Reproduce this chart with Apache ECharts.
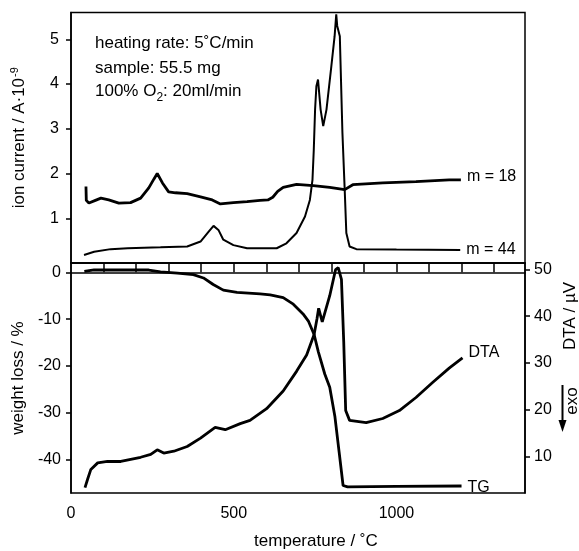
<!DOCTYPE html>
<html>
<head>
<meta charset="utf-8">
<script src="https://cdn.jsdelivr.net/npm/echarts@6/dist/echarts.min.js"></script>
<style>
  html, body { margin: 0; padding: 0; background: #fff; }
  #chart { width: 579px; height: 551px; }
</style>
</head>
<body>
<div id="chart"></div>
<script>
// ion current, m = 18
const m18T = [46, 47, 55, 75, 92, 116, 147, 183, 214, 239, 255, 265, 281, 300, 321, 357, 398, 434, 459, 499, 541, 581, 605, 620, 635, 652, 693, 744, 795, 841, 866, 958, 1060, 1162, 1198];
const m18V = [1.71, 1.40, 1.34, 1.40, 1.45, 1.41, 1.34, 1.35, 1.45, 1.68, 1.88, 2.0, 1.79, 1.59, 1.57, 1.55, 1.48, 1.41, 1.32, 1.35, 1.37, 1.40, 1.41, 1.47, 1.60, 1.69, 1.76, 1.73, 1.69, 1.64, 1.75, 1.79, 1.82, 1.86, 1.86];

// ion current, m = 44
const m44T = [40, 71, 122, 174, 275, 357, 398, 423, 438, 453, 468, 499, 541, 632, 662, 693, 719, 734, 742, 746, 750, 754, 759, 767, 775, 785, 800, 810, 815, 818, 826, 834, 841, 846, 856, 877, 1000, 1196];
const m44V = [0.18, 0.25, 0.31, 0.33, 0.35, 0.37, 0.48, 0.70, 0.83, 0.74, 0.52, 0.40, 0.33, 0.33, 0.44, 0.67, 1.04, 1.41, 1.86, 2.53, 3.43, 3.95, 4.10, 3.43, 3.06, 3.43, 4.40, 5.07, 5.56, 5.30, 5.07, 2.91, 1.64, 0.67, 0.37, 0.31, 0.30, 0.29];

// weight loss (TG), %
const tgT = [41, 71, 174, 239, 275, 327, 376, 407, 437, 468, 510, 581, 612, 652, 683, 713, 730, 747, 760, 780, 795, 811, 824, 836, 850, 1000, 1200];
const tgV = [0.2, 0.55, 0.5, 0.5, 0.1, -0.15, -0.5, -1.2, -2.6, -3.8, -4.3, -4.6, -4.8, -5.4, -6.8, -8.9, -10.5, -13.3, -17, -21.8, -24.6, -30.9, -38.5, -45.6, -45.9, -45.8, -45.7];

// DTA, µV
const dtaT = [43, 51, 61, 82, 112, 153, 214, 245, 265, 285, 316, 357, 398, 443, 474, 520, 550, 601, 652, 693, 724, 747, 756, 761, 772, 795, 813, 821, 831, 838, 844, 856, 907, 958, 1009, 1060, 1111, 1162, 1203];
const dtaV = [3.3, 5.1, 7.2, 8.6, 8.9, 8.9, 9.8, 10.4, 11.4, 10.7, 11.1, 12.1, 13.9, 16.2, 15.7, 17.0, 17.7, 20.2, 24.0, 28.2, 31.7, 36.1, 39.5, 41.7, 38.8, 44.4, 50.0, 50.4, 47.9, 34.6, 19.8, 17.7, 17.2, 18.1, 19.8, 22.6, 25.8, 28.9, 31.1];

// tick labels
const tempTicks = [100, 200, 300, 400, 500, 600, 700, 800, 900, 1000, 1100, 1200, 1300];
const tempLabels = [0, 500, 1000];
const ionTicks = [1, 2, 3, 4, 5];
const weightTicks = [0, -10, -20, -30, -40];
const dtaTicks = [10, 20, 30, 40, 50];

const zip = (xs, ys) => xs.map((x, i) => [x, ys[i]]);

const font = 'Liberation Sans, Arial, sans-serif';
const black = '#000';

const chart = echarts.init(document.getElementById('chart'));

const lineSeries = (name, xi, yi, xs, ys, width, label, offset) => ({
  name,
  type: 'line',
  xAxisIndex: xi,
  yAxisIndex: yi,
  data: zip(xs, ys),
  showSymbol: false,
  lineStyle: { color: black, width },
  endLabel: {
    show: true,
    formatter: label,
    color: black,
    fontFamily: font,
    fontSize: 16,
    distance: 6,
    offset
  }
});

const axisText = { color: black, fontFamily: font, fontSize: 16 };
const nameText = { color: black, fontFamily: font, fontSize: 17 };
const plain = v => String(v);

chart.setOption({
  animation: false,
  backgroundColor: '#fff',
  textStyle: { fontFamily: font },
  grid: [
    { left: 71, right: 54, top: 12.5, height: 250.5, show: true, borderColor: black, borderWidth: 1.5 },
    { left: 71, right: 54, top: 263, height: 234.5, show: true, borderColor: black, borderWidth: 1.5 }
  ],
  xAxis: [
    {
      gridIndex: 0, type: 'value', min: 0, max: 1395,
      axisLine: { lineStyle: { color: black, width: 1.5 } },
      axisTick: { inside: false, length: 5, customValues: tempTicks, lineStyle: { color: black, width: 1.5 } },
      axisLabel: { show: false },
      splitLine: { show: false }
    },
    {
      gridIndex: 1, type: 'value', min: 0, max: 1395,
      axisLine: { lineStyle: { color: black, width: 1.5 } },
      axisTick: { inside: true, length: 5, customValues: tempTicks, lineStyle: { color: black, width: 1.5 } },
      axisLabel: Object.assign({ customValues: tempLabels, margin: 13, formatter: plain }, axisText),
      splitLine: { show: false },
      name: 'temperature / ˚C',
      nameLocation: 'middle',
      nameGap: 40,
      nameTextStyle: Object.assign({ padding: [0, 0, 0, 36] }, nameText)
    }
  ],
  yAxis: [
    {
      gridIndex: 0, type: 'value', min: 0, max: 5.6,
      axisLine: { lineStyle: { color: black, width: 1.5 } },
      axisTick: { inside: false, length: 5, customValues: ionTicks, lineStyle: { color: black, width: 1.5 } },
      axisLabel: Object.assign({ customValues: ionTicks, margin: 12 }, axisText),
      splitLine: { show: false },
      name: '{n|ion current / A·10}{sup|-9}',
      nameLocation: 'middle',
      nameRotate: 90,
      nameGap: 43,
      nameTextStyle: Object.assign({
        rich: {
          n: { fontSize: 17, fontFamily: font, color: black, verticalAlign: 'bottom' },
          sup: { fontSize: 11, fontFamily: font, color: black, verticalAlign: 'bottom', padding: [0, 0, 8, 1] }
        }
      }, nameText)
    },
    {
      gridIndex: 1, type: 'value', min: -47.2, max: 2,
      axisLine: { lineStyle: { color: black, width: 1.5 } },
      axisTick: { inside: false, length: 5, customValues: weightTicks, lineStyle: { color: black, width: 1.5 } },
      axisLabel: Object.assign({ customValues: weightTicks, margin: 10 }, axisText),
      splitLine: { show: false },
      name: 'weight loss / %',
      nameLocation: 'middle',
      nameRotate: 90,
      nameGap: 43,
      nameTextStyle: nameText
    },
    {
      gridIndex: 1, type: 'value', position: 'right', min: 2.15, max: 51.4,
      axisLine: { lineStyle: { color: black, width: 1.5 } },
      axisTick: { inside: false, length: 5, customValues: dtaTicks, lineStyle: { color: black, width: 1.5 } },
      axisLabel: Object.assign({ customValues: dtaTicks, margin: 9 }, axisText),
      splitLine: { show: false }
    }
  ],
  graphic: [
    { type: 'text', left: 95, top: 35, style: { text: 'heating rate: 5˚C/min', fill: black, font: '17px ' + font } },
    { type: 'text', left: 95, top: 60, style: { text: 'sample: 55.5 mg', fill: black, font: '17px ' + font } },
    {
      type: 'text', left: 95, top: 83,
      style: {
        text: '{n|100% O}{sub|2}{n|: 20ml/min}',
        rich: {
          n: { fontSize: 17, fontFamily: font, fill: black, verticalAlign: 'bottom', padding: [0, 0, 4, 0] },
          sub: { fontSize: 12, fontFamily: font, fill: black, verticalAlign: 'bottom' }
        }
      }
    },
    {
      type: 'text', x: 570, y: 316, rotation: Math.PI / 2,
      style: { text: 'DTA / µV', fill: black, font: '17px ' + font, align: 'center', verticalAlign: 'middle' }
    },
    {
      type: 'text', x: 572, y: 401, rotation: Math.PI / 2,
      style: { text: 'exo', fill: black, font: '17px ' + font, align: 'center', verticalAlign: 'middle' }
    },
    { type: 'line', shape: { x1: 562.5, y1: 385, x2: 562.5, y2: 424 }, style: { stroke: black, lineWidth: 2 } },
    { type: 'polygon', shape: { points: [[558.5, 420], [566.5, 420], [562.5, 432]] }, style: { fill: black } }
  ],
  series: [
    lineSeries('m = 18', 0, 0, m18T, m18V, 2.8, 'm = 18', [0, -3]),
    lineSeries('m = 44', 0, 0, m44T, m44V, 2, 'm = 44', [0, 0]),
    lineSeries('TG', 1, 1, tgT, tgV, 2.8, 'TG', [0, 2]),
    lineSeries('DTA', 1, 2, dtaT, dtaV, 2.8, 'DTA', [0, -5])
  ]
});
</script>
</body>
</html>
